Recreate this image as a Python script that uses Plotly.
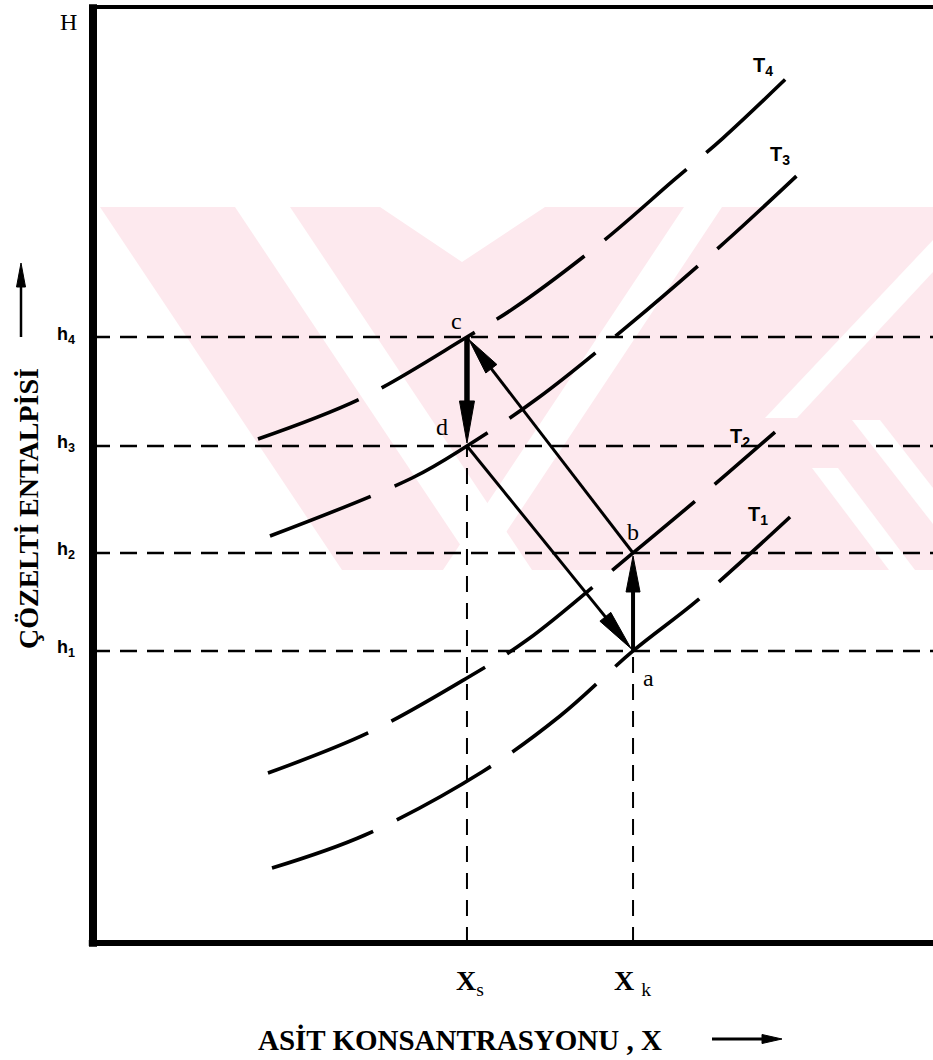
import numpy as np
import plotly.graph_objects as go

# ---------------- data (arbitrary units: X 0-100, H 0-100) ----------------
x_s = 44.52            # X_s
x_k = 64.29            # X_k
h_levels = [31.20, 41.67, 53.10, 64.74]          # h1..h4
h_labels = ["h<sub>1</sub>", "h<sub>2</sub>", "h<sub>3</sub>", "h<sub>4</sub>"]

T1_x = [21.31, 32.38, 46.31, 55.60, 64.29, 72.02, 82.98]
T1_y = [8.01, 11.54, 18.27, 24.25, 31.20, 36.65, 45.51]
T2_x = [20.83, 32.74, 44.52, 51.67, 64.29, 72.26, 81.19]
T2_y = [18.16, 22.44, 28.31, 32.37, 41.67, 47.65, 54.59]
T3_x = [21.07, 37.98, 44.52, 52.98, 63.81, 75.24, 84.64]
T3_y = [43.48, 49.68, 53.10, 58.23, 66.03, 74.89, 82.69]
T4_x = [19.64, 32.02, 44.52, 50.12, 60.60, 69.17, 75.00, 83.45]
T4_y = [53.85, 58.23, 64.74, 67.84, 74.89, 81.52, 86.00, 93.16]
curve_labels = ["T<sub>1</sub>", "T<sub>2</sub>", "T<sub>3</sub>", "T<sub>4</sub>"]

# ---------------- layout geometry ----------------
W, H = 933, 1060
ML, MR, MT, MB = 93, 0, 7, 117
PW, PH = W - ML - MR, H - MT - MB
SX, SY = PW / 100.0, PH / 100.0      # px per data unit

def px2paper(px, py):
    return (px - ML) / PW, (H - MB - py) / PH

SERIF = "Liberation Serif"
SANS = "Liberation Sans"
PINK = "#fde9ee"

fig = go.Figure()

# ---------------- isotherm curves ----------------
for cx, cy in [(T1_x, T1_y), (T2_x, T2_y), (T3_x, T3_y), (T4_x, T4_y)]:
    fig.add_trace(go.Scatter(x=cx, y=cy, mode="lines",
                             line=dict(color="black", width=3.6, dash="108px,26px",
                                       shape="spline", smoothing=1.0),
                             hoverinfo="skip", showlegend=False))

# ---------------- horizontal dashed lines h1..h4 ----------------
for h in h_levels:
    fig.add_trace(go.Scatter(x=[0, 100], y=[h, h], mode="lines",
                             line=dict(color="black", width=2.4, dash="17px,10px"),
                             hoverinfo="skip", showlegend=False))

# ---------------- vertical dashed lines ----------------
a = (x_k, h_levels[0]); b = (x_k, h_levels[1])
c = (x_s, h_levels[3]); d = (x_s, h_levels[2])
for (vx, vy) in [(x_s, d[1]), (x_k, a[1])]:
    fig.add_trace(go.Scatter(x=[vx, vx], y=[0, vy], mode="lines",
                             line=dict(color="black", width=2.0, dash="16px,11px"),
                             hoverinfo="skip", showlegend=False))

# ---------------- cycle arrows ----------------
def arrow(p0, p1, lw, head_len=38, head_w=14, tip_back=3):
    x0, y0 = p0[0] * SX, p0[1] * SY
    x1, y1 = p1[0] * SX, p1[1] * SY
    dx, dy = x1 - x0, y1 - y0
    L = np.hypot(dx, dy)
    ux, uy = dx / L, dy / L
    nx, ny = -uy, ux
    tx, ty = x1 - ux * tip_back, y1 - uy * tip_back
    bx, by = tx - ux * head_len, ty - uy * head_len
    fig.add_trace(go.Scatter(x=[p0[0], (bx + ux * 4) / SX], y=[p0[1], (by + uy * 4) / SY],
                             mode="lines", line=dict(color="black", width=lw),
                             hoverinfo="skip", showlegend=False))
    tri_x = [tx, bx + nx * head_w / 2, bx - nx * head_w / 2, tx]
    tri_y = [ty, by + ny * head_w / 2, by - ny * head_w / 2, ty]
    fig.add_trace(go.Scatter(x=[v / SX for v in tri_x], y=[v / SY for v in tri_y],
                             mode="lines", fill="toself", fillcolor="black",
                             line=dict(color="black", width=1),
                             hoverinfo="skip", showlegend=False))

arrow(c, d, 5.5, head_len=42, head_w=15)
arrow(a, b, 4.0, head_len=36, head_w=14)
arrow(b, c, 3.0, head_len=37, head_w=14)
arrow(d, a, 3.0, head_len=41, head_w=14)

shapes = []

# ---------------- faint background watermark (decorative) ----------------
def poly(pts, color):
    pp = [px2paper(x, y) for x, y in pts]
    path = "M " + " L ".join(f"{x} {y}" for x, y in pp) + " Z"
    shapes.append(dict(type="path", xref="paper", yref="paper", path=path,
                       fillcolor=color, line=dict(width=0), layer="below"))

poly([(100, 207), (933, 207), (933, 570), (342, 570)], PINK)
poly([(235, 207), (290, 207), (532, 570), (477, 570)], "white")
poly([(684, 207), (722, 207), (481, 570), (443, 570)], "white")
poly([(380, 207), (545, 207), (462, 262)], "white")
poly([(933, 240), (933, 272), (797, 418), (765, 418)], "white")
poly([(852, 420), (880, 420), (933, 488), (933, 524)], "white")
poly([(812, 468), (838, 468), (915, 570), (889, 570)], "white")

# ---------------- frame ----------------
shapes.append(dict(type="line", xref="paper", yref="paper", x0=0, x1=0,
                   y0=-0.004, y1=1.003, line=dict(color="black", width=8), layer="above"))
shapes.append(dict(type="line", xref="paper", yref="paper", x0=-0.005, x1=1,
                   y0=0, y1=0, line=dict(color="black", width=6), layer="above"))
shapes.append(dict(type="line", xref="paper", yref="paper", x0=0, x1=1,
                   y0=1, y1=1, line=dict(color="black", width=4), layer="above"))

# y-title arrow (pointing up)
ax0, ay0 = px2paper(21, 337); ax1, ay1 = px2paper(21, 282)
shapes.append(dict(type="line", xref="paper", yref="paper", x0=ax0, y0=ay0, x1=ax1, y1=ay1,
                   line=dict(color="black", width=2.5)))
t0 = px2paper(21, 263); t1 = px2paper(16.5, 287); t2 = px2paper(25.5, 287)
shapes.append(dict(type="path", xref="paper", yref="paper",
                   path=f"M {t0[0]} {t0[1]} L {t1[0]} {t1[1]} L {t2[0]} {t2[1]} Z",
                   fillcolor="black", line=dict(color="black", width=1)))
# x-title arrow (pointing right)
bx0, by0 = px2paper(712, 1039); bx1, by1 = px2paper(766, 1039)
shapes.append(dict(type="line", xref="paper", yref="paper", x0=bx0, y0=by0, x1=bx1, y1=by1,
                   line=dict(color="black", width=3)))
t0 = px2paper(782, 1039); t1 = px2paper(762, 1034.5); t2 = px2paper(762, 1043.5)
shapes.append(dict(type="path", xref="paper", yref="paper",
                   path=f"M {t0[0]} {t0[1]} L {t1[0]} {t1[1]} L {t2[0]} {t2[1]} Z",
                   fillcolor="black", line=dict(color="black", width=1)))

# ---------------- annotations ----------------
ann = []
def txt(text, x, y, xref="x", yref="y", size=22, family=SERIF, xshift=0, yshift=0, angle=0):
    ann.append(dict(text=text, x=x, y=y, xref=xref, yref=yref, showarrow=False,
                    font=dict(family=family, size=size, color="black"),
                    xshift=xshift, yshift=yshift, textangle=angle,
                    xanchor="center", yanchor="middle"))

hx = px2paper(66, 0)[0]
for h, lab in zip(h_levels, h_labels):
    txt(f"<b>{lab}</b>", hx, h, xref="paper", size=18, family=SANS, yshift=2)

lab_pos = [(758, 515), (740, 437), (780, 155), (763, 66)]
for lab, (lx, ly) in zip(curve_labels, lab_pos):
    px_, py_ = px2paper(lx, ly)
    txt(f"<b>{lab}</b>", px_, py_, xref="paper", yref="paper", size=20, family=SANS)

txt("c", c[0], c[1], size=24, xshift=-10, yshift=16)
txt("d", d[0], d[1], size=24, xshift=-25, yshift=19)
txt("b", b[0], b[1], size=24, xshift=0, yshift=21)
txt("a", a[0], a[1], size=24, xshift=15, yshift=-27)

hp = px2paper(68, 22)
txt("H", hp[0], hp[1], xref="paper", yref="paper", size=24)

yp = px2paper(0, 982)[1]
txt("<b>X</b><sub>s</sub>", x_s, yp, yref="paper", size=28, xshift=3)
txt("<b>X</b> <sub>k</sub>", x_k, yp, yref="paper", size=28, xshift=-1)

xt = px2paper(460, 1040)
txt("<b>ASİT KONSANTRASYONU , X</b>", xt[0], xt[1], xref="paper", yref="paper", size=29)
yt = px2paper(28, 509)
txt("<b>ÇÖZELTİ ENTALPİSİ</b>", yt[0], yt[1], xref="paper", yref="paper", size=28, angle=-90)

fig.update_layout(
    width=W, height=H,
    margin=dict(l=ML, r=MR, t=MT, b=MB, pad=0),
    paper_bgcolor="white", plot_bgcolor="white",
    xaxis=dict(range=[0, 100], showgrid=False, zeroline=False, showticklabels=False,
               ticks="", showline=False, fixedrange=True),
    yaxis=dict(range=[0, 100], showgrid=False, zeroline=False, showticklabels=False,
               ticks="", showline=False, fixedrange=True),
    shapes=shapes, annotations=ann, showlegend=False,
)

fig.write_html("out.html", config={"displayModeBar": False},
               post_script="document.body.style.margin='0px';document.body.style.overflow='hidden';")
